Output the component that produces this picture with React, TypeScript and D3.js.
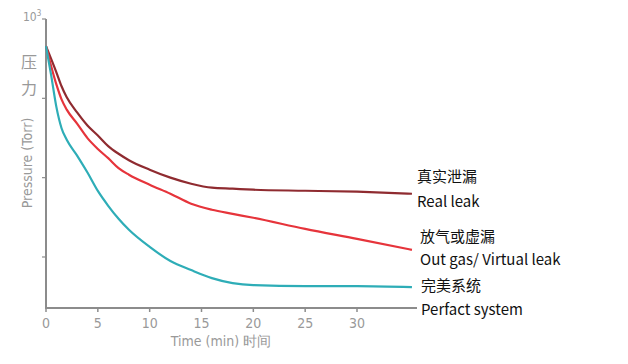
import React from 'react';
import * as d3 from 'd3';

// time in minutes, pressure in Torr
const times = [0, 1, 1.5, 2, 3, 4, 5, 6, 7, 8, 10, 12, 14, 16, 18, 20, 25, 30, 35.3];
const realLeak = [455, 213, 142, 103, 66.5, 45.5, 34, 25, 20, 16.6, 12.6, 10.0, 8.39, 7.47, 7.26, 7.05, 6.84, 6.65, 6.27];
const outGas = [455, 150, 97, 72, 48, 31.5, 23, 17.6, 13.2, 10.9, 8.15, 6.27, 4.69, 3.94, 3.5, 3.12, 2.26, 1.69, 1.23];
const perfTimes = [0, 0.5, 1, 1.5, 2, 3, 4, 5, 6, 7, 8, 10, 12, 14, 16, 18, 20, 25, 30, 35.3];
const perfect = [455, 195, 78, 42, 30, 19.0, 11.6, 6.8, 4.42, 3.03, 2.2, 1.34, 0.89, 0.684, 0.542, 0.469, 0.442, 0.43, 0.43, 0.417];

const xTicks = [0, 5, 10, 15, 20, 25, 30];
const yTicks = [1000, 100, 10, 1];

const series = [
  { name: 'real', times: times, values: realLeak, color: '#8f2b30' },
  { name: 'out', times: times, values: outGas, color: '#e6343b' },
  { name: 'perfect', times: perfTimes, values: perfect, color: '#2eadb7' },
];

const labels = [
  { text: '真实泄漏', x: 417, y: 182 },
  { text: 'Real leak', x: 417, y: 207 },
  { text: '放气或虚漏', x: 420, y: 242 },
  { text: 'Out gas/ Virtual leak', x: 420, y: 265 },
  { text: '完美系统', x: 421, y: 291 },
  { text: 'Perfact system', x: 421, y: 315 },
];

export default function App() {
  const x = d3.scaleLinear().domain([0, 30]).range([46, 357]);
  const y = d3.scaleLog().domain([0.2275, 1000]).range([308, 19]);
  const axisColor = '#8c8c8c';
  const tickFont = '"DejaVu Sans Condensed", Roboto, sans-serif';

  return (
    <svg width={628} height={364} style={{ position: 'absolute', left: 0, top: 0 }}>
      <rect width={628} height={364} fill="#fff" />
      {/* axes */}
      <path d={`M${x(0)},${y(1000)}V${y.range()[0]}H417`} fill="none" stroke={axisColor} strokeWidth={2} />
      {yTicks.map((t) => (
        <line key={t} x1={x(0) - 4} x2={x(0)} y1={y(t)} y2={y(t)} stroke={axisColor} strokeWidth={1.2} />
      ))}
      <text x={23} y={21} fontSize={12} fill="#999" fontFamily={tickFont}>
        10<tspan dy={-5} fontSize={8}>3</tspan>
      </text>
      {xTicks.map((t) => (
        <g key={t}>
          <line x1={x(t)} x2={x(t)} y1={308} y2={312} stroke={axisColor} strokeWidth={1.5} />
          <text x={x(t)} y={328} textAnchor="middle" fontSize={14} fill="#999" fontFamily={tickFont}>
            {t}
          </text>
        </g>
      ))}
      <text x={221} y={346} textAnchor="middle" fontSize={14} fill="#999" fontFamily={tickFont}>
        Time (min) 时间
      </text>
      <text x={29} y={68} textAnchor="middle" fontSize={16} fill="#999" fontFamily='"Noto Sans CJK SC", sans-serif'>压</text>
      <text x={29} y={94} textAnchor="middle" fontSize={16} fill="#999" fontFamily='"Noto Sans CJK SC", sans-serif'>力</text>
      <text
        transform="translate(32,163) rotate(-90)"
        textAnchor="middle"
        fontSize={14}
        fill="#999"
        fontFamily={tickFont}
      >
        Pressure (Torr)
      </text>
      {/* curves */}
      {series.map((s) => {
        const line = d3
          .line<number>()
          .x((_, i) => x(s.times[i]))
          .y((v) => y(v))
          .curve(d3.curveMonotoneX);
        return <path key={s.name} d={line(s.values) || ''} fill="none" stroke={s.color} strokeWidth={2.2} />;
      })}
      {labels.map((l) => (
        <text key={l.text} x={l.x} y={l.y} fontSize={15} fill="#111" fontFamily='"Noto Sans CJK SC", "Open Sans", sans-serif'>
          {l.text}
        </text>
      ))}
    </svg>
  );
}
